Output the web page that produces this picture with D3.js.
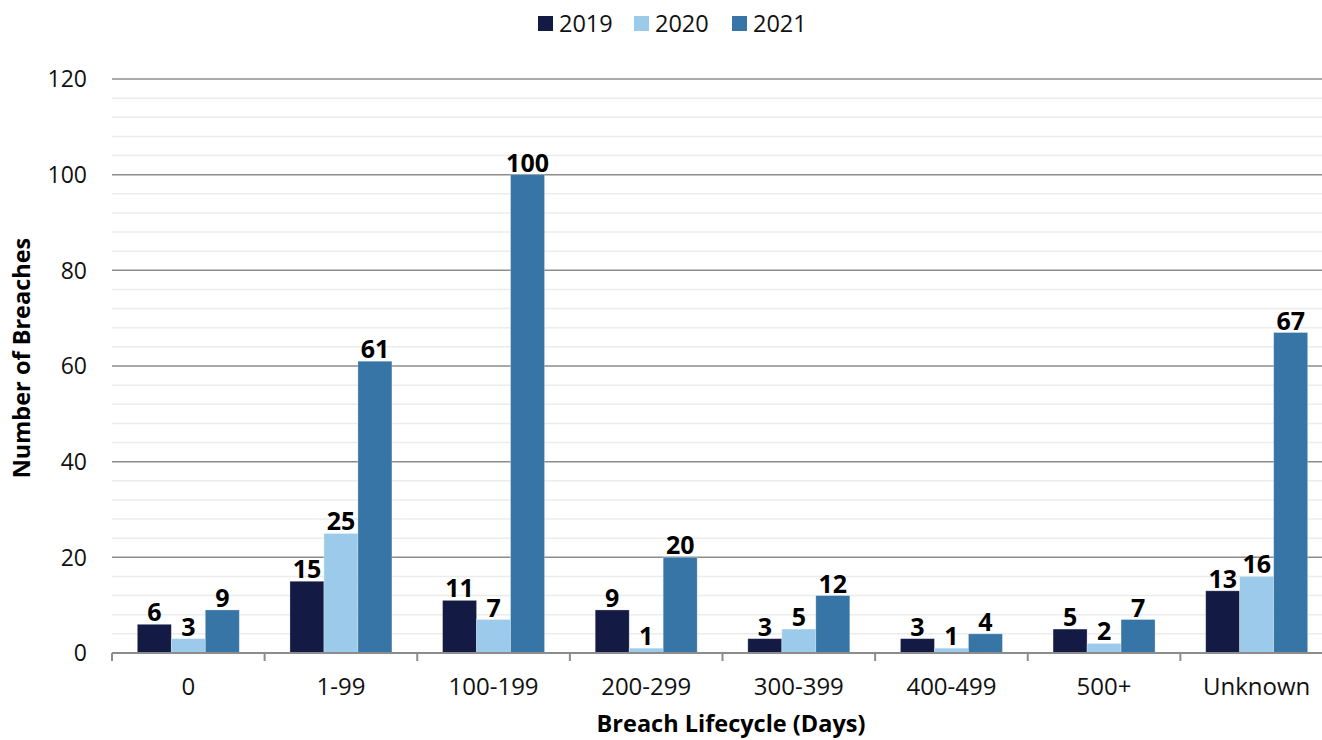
<!DOCTYPE html>
<html>
<head>
<meta charset="utf-8">
<script src="https://cdn.jsdelivr.net/npm/d3@7"></script>
<style>
  html, body { margin: 0; padding: 0; background: #fff; }
  svg { display: block; font-family: "Open Sans", "Noto Sans", sans-serif; }
</style>
</head>
<body>
<svg id="chart" width="1322" height="740"></svg>
<script>
// Breach lifecycle buckets (days) and yearly breach counts
const categories = ["0", "1-99", "100-199", "200-299", "300-399", "400-499", "500+", "Unknown"];
const years = ["2019", "2020", "2021"];
const values2019 = [6, 15, 11, 9, 3, 3, 5, 13];
const values2020 = [3, 25, 7, 1, 5, 1, 2, 16];
const values2021 = [9, 61, 100, 20, 12, 4, 7, 67];
const yTicks = [0, 20, 40, 60, 80, 100, 120];
const colors = ["#131b45", "#9ccaea", "#3675a6"];

const seriesValues = [values2019, values2020, values2021];
const svg = d3.select("#chart");
const margin = { left: 112, right: -11, top: 79, bottom: 87 };
const W = 1322, H = 740;

const x = d3.scaleBand().domain(categories).range([margin.left, W - margin.right]).paddingInner(0).paddingOuter(0);
const xInner = d3.scaleBand().domain(years).range([0, x.bandwidth()]).paddingInner(0).paddingOuter(0.745);
const y = d3.scaleLinear().domain([0, 120]).range([H - margin.bottom, margin.top]);

// minor gridlines every 4
const minor = d3.range(0, 121, 4).filter(v => v % 20 !== 0);
svg.append("g").selectAll("line").data(minor).join("line")
  .attr("x1", margin.left).attr("x2", W)
  .attr("y1", d => y(d)).attr("y2", d => y(d))
  .attr("stroke", "#ececec").attr("stroke-width", 1.5);

// major gridlines
svg.append("g").selectAll("line").data(yTicks.filter(v => v > 0)).join("line")
  .attr("x1", margin.left).attr("x2", W)
  .attr("y1", d => y(d)).attr("y2", d => y(d))
  .attr("stroke", "#8c8c8c").attr("stroke-width", 1.5);

// y tick labels
svg.append("g").selectAll("text").data(yTicks).join("text")
  .attr("x", 87).attr("y", d => y(d)).attr("dy", "0.36em")
  .attr("text-anchor", "end").attr("font-size", 23).attr("fill", "#111")
  .text(d => d);

// bars
const groups = svg.append("g").selectAll("g").data(categories).join("g")
  .attr("transform", d => `translate(${x(d)},0)`);
years.forEach((yr, si) => {
  groups.append("rect")
    .attr("x", xInner(yr))
    .attr("width", xInner.bandwidth())
    .attr("y", (d, i) => y(seriesValues[si][i]))
    .attr("height", (d, i) => y(0) - y(seriesValues[si][i]))
    .attr("fill", colors[si])
    .attr("stroke", "rgba(255,255,255,0.35)").attr("stroke-width", 0.8);
  groups.append("text")
    .attr("x", xInner(yr) + xInner.bandwidth() / 2)
    .attr("y", (d, i) => y(seriesValues[si][i]) - 3)
    .attr("text-anchor", "middle").attr("font-size", 25).attr("font-weight", 700)
    .attr("fill", "#000")
    .text((d, i) => seriesValues[si][i]);
});

// baseline axis with ticks between categories
const axisG = svg.append("g");
axisG.append("line")
  .attr("x1", margin.left).attr("x2", W)
  .attr("y1", y(0)).attr("y2", y(0))
  .attr("stroke", "#8c8c8c").attr("stroke-width", 2);
const bounds = categories.map(c => x(c));
axisG.selectAll("line.tick").data(bounds).join("line").attr("class", "tick")
  .attr("x1", d => d).attr("x2", d => d)
  .attr("y1", y(0)).attr("y2", y(0) + 8)
  .attr("stroke", "#8c8c8c").attr("stroke-width", 2);
axisG.selectAll("text").data(categories).join("text")
  .attr("x", d => x(d) + x.bandwidth() / 2).attr("y", 695)
  .attr("text-anchor", "middle").attr("font-size", 24).attr("fill", "#111")
  .text(d => d);

// axis titles
svg.append("text").attr("x", 731).attr("y", 732)
  .attr("text-anchor", "middle").attr("font-size", 23.5).attr("font-weight", 700)
  .text("Breach Lifecycle (Days)");
svg.append("text").attr("transform", "translate(30,358) rotate(-90)")
  .attr("text-anchor", "middle").attr("font-size", 23.5).attr("font-weight", 700)
  .text("Number of Breaches");

// legend
const legendX = [538, 634, 732];
const legend = svg.append("g").selectAll("g").data(years).join("g")
  .attr("transform", (d, i) => `translate(${legendX[i]},16)`);
legend.append("rect").attr("width", 15).attr("height", 15).attr("fill", (d, i) => colors[i]);
legend.append("text").attr("x", 21).attr("y", 7.5).attr("dy", "0.36em")
  .attr("font-size", 23.5).attr("fill", "#111").text(d => d);
</script>
</body>
</html>
